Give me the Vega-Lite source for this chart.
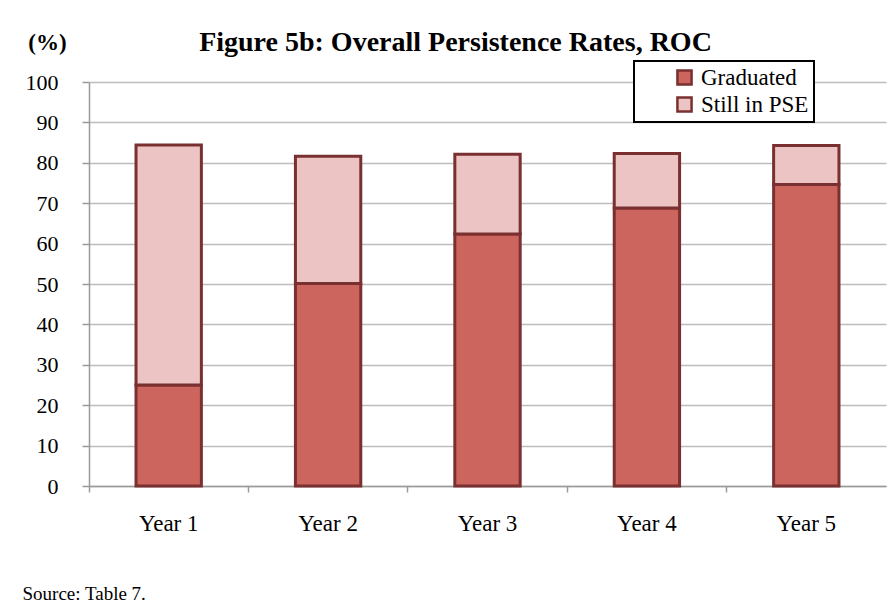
{
  "$schema": "https://vega.github.io/schema/vega-lite/v6.json",
  "autosize": {"type": "none"},
  "width": 797,
  "height": 404,
  "padding": {"left": 89, "top": 82, "right": 10, "bottom": 123},
  "background": "white",
  "title": {
    "text": "Figure 5b: Overall Persistence Rates, ROC",
    "anchor": "middle",
    "frame": "group",
    "dx": -32,
    "dy": 54,
    "offset": 0,
    "baseline": "bottom",
    "font": "Liberation Serif",
    "fontSize": 28,
    "fontWeight": "bold",
    "color": "black"
  },
  "data": {
    "values": [
      {"year": "Year 1", "status": "Graduated", "pct": 25.0},
      {"year": "Year 1", "status": "Still in PSE", "pct": 59.4},
      {"year": "Year 2", "status": "Graduated", "pct": 50.1},
      {"year": "Year 2", "status": "Still in PSE", "pct": 31.5},
      {"year": "Year 3", "status": "Graduated", "pct": 62.4},
      {"year": "Year 3", "status": "Still in PSE", "pct": 19.7},
      {"year": "Year 4", "status": "Graduated", "pct": 68.8},
      {"year": "Year 4", "status": "Still in PSE", "pct": 13.5},
      {"year": "Year 5", "status": "Graduated", "pct": 74.6},
      {"year": "Year 5", "status": "Still in PSE", "pct": 9.7}
    ]
  },
  "mark": {"type": "bar", "stroke": "#7a3030", "strokeWidth": 3, "strokeJoin": "miter", "width": {"band": 0.41}},
  "encoding": {
    "x": {
      "field": "year",
      "type": "nominal",
      "scale": {"paddingInner": 0, "paddingOuter": 0},
      "axis": {
        "title": "Source: Table 7.",
        "titleX": -67,
        "titleY": 107,
        "titleAlign": "left",
        "titleBaseline": "middle",
        "titleFont": "Liberation Serif",
        "titleFontSize": 19,
        "titleFontWeight": "normal",
        "titleColor": "black",
        "labelAngle": 0,
        "labelFont": "Liberation Serif",
        "labelFontSize": 23,
        "labelColor": "black",
        "labelPadding": 20,
        "bandPosition": 0,
        "domainColor": "#9a9a9a",
        "domainWidth": 1.5,
        "tickColor": "#9a9a9a",
        "tickSize": 6,
        "tickWidth": 1.5
      }
    },
    "y": {
      "field": "pct",
      "type": "quantitative",
      "stack": "zero",
      "scale": {"domain": [0, 100], "nice": false},
      "axis": {
        "values": [0, 10, 20, 30, 40, 50, 60, 70, 80, 90, 100],
        "title": "(%)",
        "titleAngle": 0,
        "titleX": -42,
        "titleY": -40,
        "titleAlign": "center",
        "titleBaseline": "middle",
        "titleFont": "Liberation Serif",
        "titleFontSize": 23,
        "titleFontWeight": "bold",
        "titleColor": "black",
        "labelFont": "Liberation Serif",
        "labelFontSize": 22,
        "labelColor": "black",
        "labelPadding": 24,
        "grid": true,
        "gridColor": "#bdbdbd",
        "gridWidth": 1.5,
        "domainColor": "#9a9a9a",
        "domainWidth": 1.5,
        "tickColor": "#9a9a9a",
        "tickSize": 7,
        "tickWidth": 1.5
      }
    },
    "color": {
      "field": "status",
      "type": "nominal",
      "scale": {"domain": ["Graduated", "Still in PSE"], "range": ["#cd655f", "#ebc4c3"]},
      "legend": {
        "title": null,
        "orient": "none",
        "legendX": 545,
        "legendY": -21,
        "direction": "vertical",
        "symbolType": "square",
        "symbolSize": 200,
        "symbolOffset": 34,
        "symbolStrokeColor": "#7a3030",
        "symbolStrokeWidth": 2.5,
        "labelFont": "Liberation Serif",
        "labelFontSize": 23,
        "labelColor": "black",
        "labelOffset": 5,
        "rowPadding": 2,
        "fillColor": "white",
        "strokeColor": "black",
        "padding": 5,
        "cornerRadius": 0,
        "encode": {"legend": {"update": {"strokeWidth": {"value": 2}, "width": {"value": 199}}}}
      }
    },
    "order": {"field": "status", "sort": "ascending"}
  },
  "config": {
    "view": {"stroke": null}
  }
}
